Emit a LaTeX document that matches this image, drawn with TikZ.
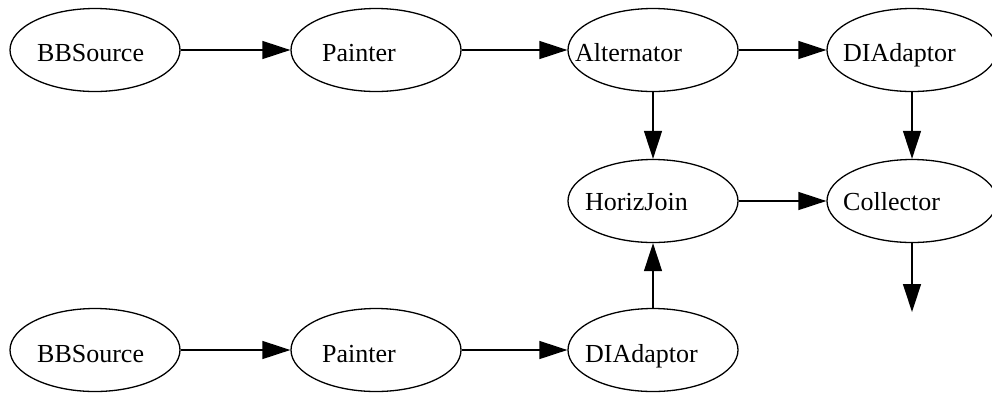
\documentclass[tikz,border=0pt]{standalone}
\usepackage{fontspec}
\setmainfont{Liberation Serif}
\usetikzlibrary{shapes.geometric,arrows.meta}
\begin{document}
\begin{tikzpicture}[x=1pt,y=-1pt,
  ell/.style={draw,ellipse,line width=1.3pt,minimum width=170pt,minimum height=83pt,inner sep=0pt},
  lbl/.style={anchor=base west,inner sep=0pt,font=\fontsize{26}{30}\selectfont},
  conn/.style={line width=1.3pt,-{Triangle[length=28pt,width=18pt]}}]
\useasboundingbox (0,0) rectangle (992,392);
% row 1
\node[ell] (bb1) at (95,50) {};
\node[ell] (pa1) at (376,50) {};
\node[ell] (al) at (653,50) {};
\node[ell] (di1) at (912,50) {};
% row 2
\node[ell] (hj) at (653,201) {};
\node[ell] (co) at (912,201) {};
% row 3
\node[ell] (bb2) at (95,350) {};
\node[ell] (pa2) at (376,350) {};
\node[ell] (di2) at (653,350) {};
% labels
\node[lbl] (tbb1) at (37,61) {BBSource};
\node[lbl] (tpa1) at (322,61) {Painter};
\node[lbl] (tal) at (575,61) {Alternator};
\node[lbl] (tdi1) at (843,61) {DIAdaptor};
\node[lbl] (thj) at (585,210) {HorizJoin};
\node[lbl] (tco) at (843,210) {Collector};
\node[lbl] (tbb2) at (37,362) {BBSource};
\node[lbl] (tpa2) at (322,362) {Painter};
\node[lbl] (tdi2) at (585,362) {DIAdaptor};
\coordinate (out) at (912,312);
% connectors
\draw[conn] (bb1) -- (pa1);
\draw[conn] (pa1) -- (al);
\draw[conn] (al) -- (di1);
\draw[conn] (al) -- (hj);
\draw[conn] (di1) -- (co);
\draw[conn] (hj) -- (co);
\draw[conn] (co) -- (out);
\draw[conn] (bb2) -- (pa2);
\draw[conn] (pa2) -- (di2);
\draw[conn] (di2) -- (hj);
\end{tikzpicture}
\end{document}
